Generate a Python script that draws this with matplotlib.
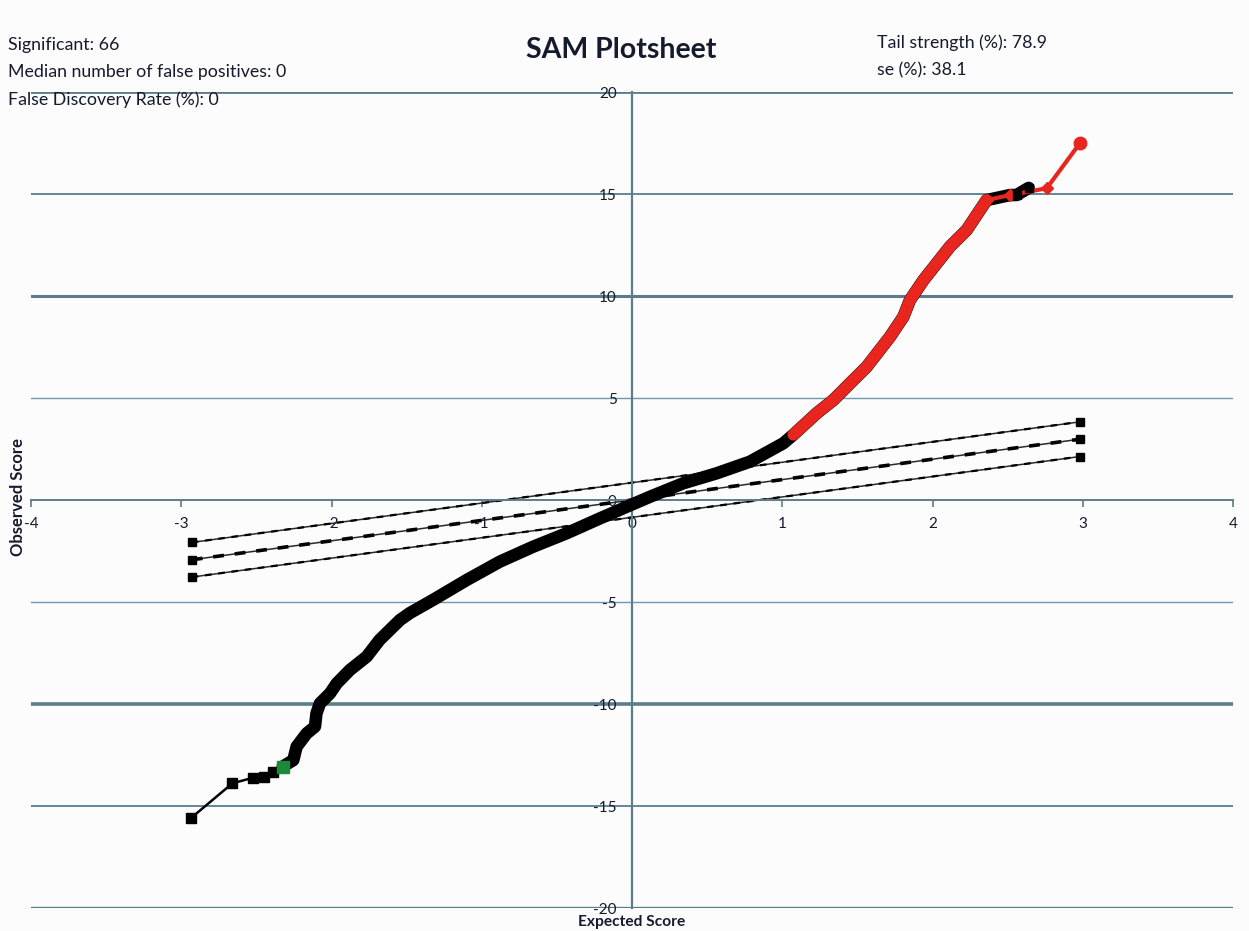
import matplotlib
matplotlib.use('Agg')
import matplotlib.pyplot as plt

plt.rcParams['font.family'] = ['Lato', 'DejaVu Sans']
plt.rcParams['axes.unicode_minus'] = False

# ---------------- data ----------------
obs_x = [-2.935, -2.66, -2.52, -2.45, -2.39, -2.325, -2.254, -2.232, -2.165, -2.11,
         -2.10, -2.077, -2.01, -1.965, -1.877, -1.766, -1.68, -1.544, -1.478, -1.325,
         -1.10, -0.879, -0.658, -0.435, -0.213, -0.035, 0.12, 0.341, 0.564, 0.785,
         1.007, 1.074, 1.229, 1.34, 1.451, 1.562, 1.717, 1.806, 1.85, 1.94,
         2.116, 2.228, 2.36, 2.516, 2.56, 2.64]
obs_y = [-15.59, -13.89, -13.61, -13.56, -13.32, -13.07, -12.75, -12.09, -11.44, -11.11,
         -10.46, -9.97, -9.48, -8.99, -8.33, -7.68, -6.86, -5.88, -5.54, -4.90,
         -3.92, -3.02, -2.29, -1.63, -0.90, -0.33, 0.16, 0.82, 1.31, 1.88,
         2.78, 3.20, 4.25, 4.90, 5.72, 6.53, 8.00, 8.98, 9.80, 10.78,
         12.42, 13.24, 14.70, 14.95, 14.95, 15.30]

sig_up_x = [1.074, 1.229, 1.34, 1.451, 1.562, 1.717, 1.806, 1.85, 1.94, 2.116,
            2.228, 2.36, 2.516, 2.76, 2.98]
sig_up_y = [3.20, 4.25, 4.90, 5.72, 6.53, 8.00, 8.98, 9.80, 10.78, 12.42,
            13.24, 14.70, 14.95, 15.28, 17.48]

sig_down_x = [-2.325]
sig_down_y = [-13.07]

cut_x = [-2.93, 2.98]
cut_mid_y = [-2.93, 2.98]
cut_upper_y = [-2.08, 3.83]
cut_lower_y = [-3.78, 2.13]

x_ticks = [-4, -3, -2, -1, 0, 1, 2, 3, 4]
y_ticks = [-20, -15, -10, -5, 0, 5, 10, 15, 20]

title = "SAM Plotsheet"
left_info = ["Significant: 66", "Median number of false positives: 0",
             "False Discovery Rate (%): 0"]
right_info = ["Tail strength (%): 78.9", "se (%): 38.1"]

# ---------------- styling ----------------
W, H = 1249, 931
fig = plt.figure(figsize=(W / 100, H / 100), dpi=100)
bg = '#fcfcfd'
fig.patch.set_facecolor(bg)
ax = fig.add_axes([31 / W, 1 - 908 / H, (1233 - 31) / W, (908 - 92) / H])
ax.set_facecolor(bg)
ax.set_xlim(-4, 4)
ax.set_ylim(-20, 20)

axis_col = '#5b7d8b'
txt_col = '#151a2c'

for s in ['top', 'right']:
    ax.spines[s].set_visible(False)
ax.spines['left'].set_position('zero')
ax.spines['bottom'].set_position('zero')
ax.spines['left'].set_color(axis_col)
ax.spines['left'].set_linewidth(1.6)
ax.spines['bottom'].set_color(axis_col)
ax.spines['bottom'].set_linewidth(1.4)

ax.set_xticks(x_ticks)
ax.set_yticks(y_ticks)
ax.set_xticklabels([str(v) for v in x_ticks])
ax.set_yticklabels([str(v) for v in y_ticks])
ax.tick_params(axis='x', direction='out', length=5, width=1.2, color=axis_col,
               pad=7, labelsize=11, labelcolor=txt_col)
ax.tick_params(axis='y', length=0, pad=11, labelsize=11, labelcolor=txt_col)

ax.yaxis.grid(True)
grid_style = {20: (2.0, axis_col), 15: (1.3, axis_col), 10: (2.2, axis_col),
              5: (1.0, '#6f98b0'), 0: (0.0, axis_col), -5: (1.0, '#6f98b0'),
              -10: (2.6, axis_col), -15: (1.3, axis_col), -20: (2.4, axis_col)}
for val, gl in zip(y_ticks, ax.get_ygridlines()):
    lw, c = grid_style[val]
    gl.set_linewidth(lw)
    gl.set_color(c)
    gl.set_visible(lw > 0)
ax.set_axisbelow(True)

# cutoff lines
for yy, lw_d in [(cut_upper_y, 1.6), (cut_mid_y, 2.6), (cut_lower_y, 1.6)]:
    ax.plot(cut_x, yy, '-', color='#2a2a2a', lw=1.1, zorder=2)
    ax.plot(cut_x, yy, color='black', lw=lw_d, dashes=(3, 3), zorder=2)
    ax.plot(cut_x, yy, 's', color='black', ms=5.5, zorder=3)

# observed scores (black)
n_tail = 6
ax.plot(obs_x[:n_tail], obs_y[:n_tail], '-', color='black', lw=1.8, zorder=3)
ax.plot(obs_x[:n_tail], obs_y[:n_tail], 's', color='black', ms=6.5, zorder=3)
ax.plot(obs_x[n_tail - 1:], obs_y[n_tail - 1:], '-', color='black', lw=9,
        solid_capstyle='round', solid_joinstyle='round', zorder=3)

# significant positive (red)
n_thick = 12
red = '#e8261f'
ax.plot(sig_up_x[:n_thick], sig_up_y[:n_thick], '-', color=red, lw=8.5,
        solid_capstyle='round', solid_joinstyle='round', zorder=4)
ax.plot(sig_up_x[n_thick - 1:], sig_up_y[n_thick - 1:], '-', color=red, lw=3,
        zorder=4)
ax.plot(sig_up_x[n_thick - 1:-1], sig_up_y[n_thick - 1:-1], 'D', color=red, ms=6.5,
        zorder=4)
ax.plot(sig_up_x[-1:], sig_up_y[-1:], 'o', color=red, ms=9, zorder=4)
ax.plot(obs_x[-2:], obs_y[-2:], 's', color='black', ms=5.5, zorder=5)

# significant negative (green)
ax.plot(sig_down_x, sig_down_y, 's', color='#1a8a3a', ms=8, zorder=5)

# texts
fig.text(621 / W, 1 - 50 / H, title, ha='center', va='center', fontsize=20.5,
         fontweight='bold', color=txt_col)
for i, t in enumerate(left_info):
    fig.text(8 / W, 1 - (45 + 27.5 * i) / H, t, ha='left', va='center',
             fontsize=12.8, color=txt_col)
for i, t in enumerate(right_info):
    fig.text(877 / W, 1 - (43 + 27 * i) / H, t, ha='left', va='center',
             fontsize=12.8, color=txt_col)
fig.text(18 / W, 1 - 497 / H, "Observed Score", rotation=90, ha='center',
         va='center', fontsize=12, fontweight='bold', color=txt_col)
fig.text(632 / W, 1 - 922 / H, "Expected Score", ha='center', va='center',
         fontsize=11.2, fontweight='bold', color=txt_col)

fig.savefig('out.png', dpi=100, facecolor=bg)
